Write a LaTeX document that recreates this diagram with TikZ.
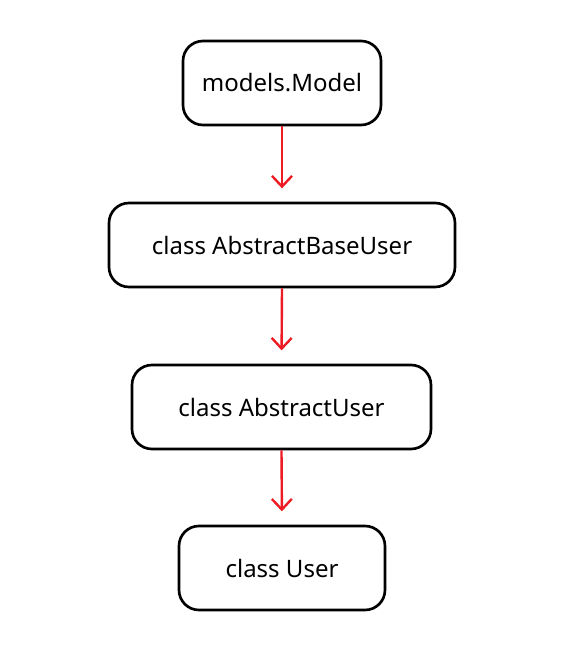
\documentclass[tikz,border=0pt]{standalone}
\usepackage{fontspec}
\setmainfont{Noto Sans}
\usetikzlibrary{arrows.meta}

\definecolor{arrowred}{RGB}{237,28,36}

\tikzset{
  classbox/.style={draw=black, line width=2pt, rounded corners=15pt,
    minimum height=63pt, font=\fontsize{18}{22}\selectfont, inner sep=0pt},
  inherit/.style={draw=arrowred, line width=1.8pt,
    -{Straight Barb[length=8pt,width=15pt]}, shorten >=10pt}
}

\begin{document}
\begin{tikzpicture}[x=0.75pt,y=-0.75pt]
		\useasboundingbox (0,0) rectangle (568,656);

		% class hierarchy
		\node[classbox, minimum width=148.5pt] (model) at (282,83) {models.Model};
		\node[classbox, minimum width=259.5pt] (base) at (282,245) {class AbstractBaseUser};
		\node[classbox, minimum width=224.25pt] (abstract) at (281.5,407) {class AbstractUser};
		\node[classbox, minimum width=154.5pt] (user) at (282,568) {class User};

		% arrows
		\draw[inherit] (model.south) -- (base.north);
		\draw[inherit] (base.south) -- (abstract.north);
		\draw[inherit] (abstract.south) -- (user.north);
	\end{tikzpicture}
\end{document}
